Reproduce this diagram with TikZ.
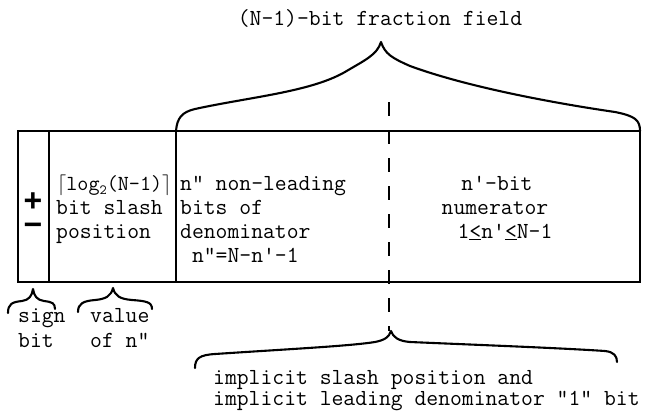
\documentclass[tikz,border=0pt]{standalone}
\usepackage{fontspec}
\newfontfamily\signfont{Liberation Mono}
\newcommand{\subtwo}{\raisebox{-4.5pt}{\fontsize{14}{14}\selectfont 2}}
\newcommand{\bigceil}[1]{{\fontsize{21}{21}\selectfont$\mathbf{#1}$}}
\newcommand{\stack}[2]{\begin{tabular}[b]{@{}#1@{}}#2\end{tabular}}
\begin{document}
\begin{tikzpicture}[x=1pt,y=-1pt,
  txt/.style={inner sep=0pt,font=\ttfamily\fontsize{23}{27}\selectfont},
  lt/.style={txt,anchor=base west},
  ct/.style={txt,anchor=base},
  signsym/.style={inner sep=0pt,
    font=\signfont\bfseries\fontsize{32}{24}\selectfont},
  boxline/.style={line width=1.7pt},
  bracepath/.style={line width=2.1pt,line cap=round,line join=round},
  dashline/.style={line width=1.9pt,dash pattern=on 14pt off 14pt}]
\useasboundingbox[fill=white] (0,0) rectangle (652,412);

% field box
\coordinate (tl) at (18,131);
\coordinate (br) at (640,282);
\coordinate (s1t) at (49,131);
\coordinate (s1b) at (49,282);
\coordinate (s2t) at (176,131);
\coordinate (s2b) at (176,282);
\draw[boxline] (tl) rectangle (br);
\draw[boxline] (s1t) -- (s1b);
\draw[boxline] (s2t) -- (s2b);

% sign field
\node[signsym,anchor=base] (pm) at (33,235) {\stack{c}{+\\−}};

% slash position field
\node[lt,font=\ttfamily\fontsize{21.5}{27}\selectfont] (log) at (57,190) {\bigceil{\lceil}log\subtwo(N-1)\bigceil{\rceil}};
\node[lt] (bs) at (56,214) {bit slash};
\node[lt] (pos) at (56,238) {position};

% denominator part
\node[lt] (d1) at (180,190) {n" non-leading};
\node[lt] (d2) at (180,214) {bits of};
\node[lt] (d3) at (180,238) {denominator};
\node[lt] (d4) at (180,262) {\ n"=N-n'-1};

% numerator part
\node[ct] (n1) at (497,190) {n'-bit};
\node[ct] (n2) at (495,214) {numerator};
\node[ct] (n3) at (505,238) {1\underline{<}n'\underline{<}N-1};

% top brace and label
\node[ct] (top) at (380,26) {(N-1)-bit fraction field};
\coordinate (ttip) at (381,42);
\draw[bracepath] (s2t) .. controls (177,118) and (182,112) .. (195,109)
  .. controls (250,97) and (310,92) .. (345,72)
  .. controls (365,60) and (377,55) .. (ttip)
  .. controls (385,54) and (392,58) .. (410,66)
  .. controls (470,88) and (560,104) .. (615,112)
  .. controls (635,116) and (640,120) .. (640,131);

% dashed slash position
\coordinate (dtop) at (389,102);
\coordinate (btip) at (391,331);
\draw[dashline] (dtop) -- (389,331);

% bottom brace and label
\draw[bracepath] (195,368) .. controls (195,358) and (200,355) .. (215,354)
  .. controls (290,349) and (350,346) .. (375,342)
  .. controls (385,340) and (389,337) .. (btip)
  .. controls (393,337) and (398,341) .. (410,342)
  .. controls (480,345) and (560,348) .. (605,351)
  .. controls (614,352) and (617,356) .. (617,362);
\node[lt,font=\ttfamily\fontsize{23}{20}\selectfont] (bl) at (213,405)
  {\stack{l}{implicit slash position and\\implicit leading denominator "1" bit}};

% sign bit brace
\draw[bracepath] (8,313) .. controls (8,304) and (12,302) .. (22,301)
  .. controls (29,300) and (32,296) .. (33,289)
  .. controls (34,296) and (37,300) .. (44,301)
  .. controls (52,302) and (55,303) .. (55,309);
\node[lt] (sg1) at (18,322) {sign};
\node[lt] (sg2) at (18,347) {bit};

% value brace
\draw[bracepath] (78,312) .. controls (78,303) and (84,301) .. (95,300)
  .. controls (106,299) and (111,296) .. (113,288)
  .. controls (115,296) and (120,299) .. (132,300)
  .. controls (146,301) and (152,302) .. (152,309);
\node[lt] (v1) at (90,322) {value};
\node[lt] (v2) at (90,347) {of n"};
\end{tikzpicture}
\end{document}
